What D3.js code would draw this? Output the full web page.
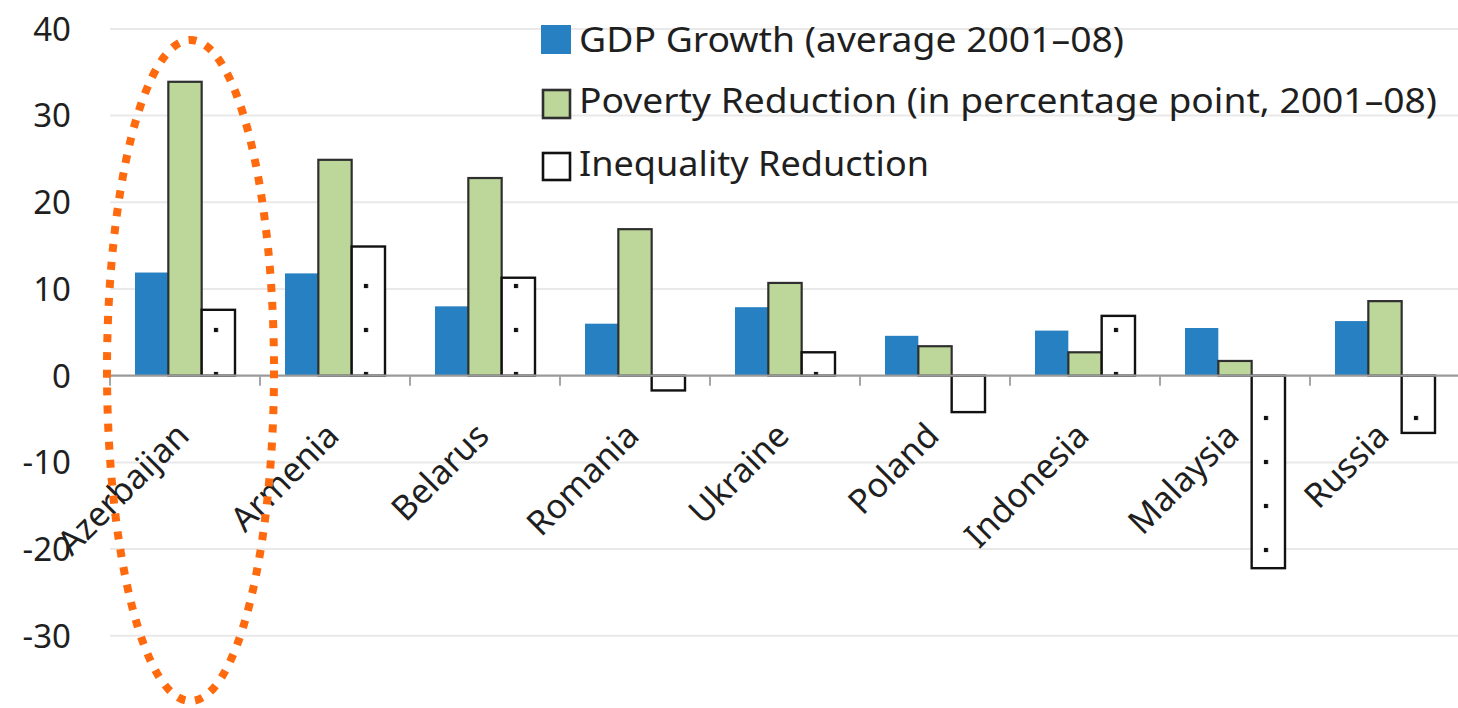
<!DOCTYPE html>
<html>
<head>
<meta charset="utf-8">
<script src="https://cdn.jsdelivr.net/npm/d3@7"></script>
<style>
  html, body { margin: 0; padding: 0; background: #fff; }
  svg { display: block; }
  text { font-family: "Noto Sans", "Open Sans", sans-serif; fill: #1f1f1f; }
</style>
</head>
<body>
<svg id="chart" width="1458" height="708"></svg>
<script>
// Growth, poverty and inequality outcomes, 2001–08
const categories = ["Azerbaijan", "Armenia", "Belarus", "Romania", "Ukraine", "Poland", "Indonesia", "Malaysia", "Russia"];
const gdpGrowth = [11.9, 11.8, 8.0, 6.0, 7.9, 4.6, 5.2, 5.5, 6.3];
const povertyReduction = [33.9, 24.9, 22.8, 16.9, 10.7, 3.4, 2.7, 1.7, 8.6];
const inequalityReduction = [7.6, 14.9, 11.3, -1.7, 2.7, -4.2, 6.9, -22.2, -6.6];
const seriesNames = ["GDP Growth (average 2001–08)", "Poverty Reduction (in percentage point, 2001–08)", "Inequality Reduction"];
const yTicks = [40, 30, 20, 10, 0, -10, -20, -30];

const svg = d3.select("#chart");
const W = 1458;

const series = [
  { key: "gdp", name: seriesNames[0], values: gdpGrowth, fill: "#2680c2", stroke: "none", sw: 0 },
  { key: "pov", name: seriesNames[1], values: povertyReduction, fill: "#bdd699", stroke: "#2f2f2f", sw: 2.2 },
  { key: "ineq", name: seriesNames[2], values: inequalityReduction, fill: "url(#dots)", stroke: "#111", sw: 2.4 }
];

const y = d3.scaleLinear().domain([-40, 40]).range([722.5, 28.9]);
const x0 = d3.scaleBand().domain(categories).range([110, 110 + 150 * categories.length]).padding(0);
const x1 = d3.scaleBand().domain(series.map(s => s.key)).range([25, 125]).padding(0);

// sparse dot fill for the inequality bars
const defs = svg.append("defs");
const pat = defs.append("pattern")
  .attr("id", "dots")
  .attr("patternUnits", "userSpaceOnUse")
  .attr("x", 362).attr("y", 275)
  .attr("width", 44.5).attr("height", 44);
pat.append("rect").attr("width", 44.5).attr("height", 44).attr("fill", "#fff");
pat.append("rect").attr("x", 8.9).attr("y", 8.9).attr("width", 4.2).attr("height", 4.2).attr("fill", "#111");
pat.append("rect").attr("x", 31.15).attr("y", 30.9).attr("width", 4.2).attr("height", 4.2).attr("fill", "#111");

// horizontal gridlines
svg.append("g")
  .selectAll("line")
  .data(yTicks.filter(d => d !== 0))
  .join("line")
  .attr("x1", 110).attr("x2", W)
  .attr("y1", d => y(d)).attr("y2", d => y(d))
  .attr("stroke", "#e9e9e9").attr("stroke-width", 2);

// y tick labels
svg.append("g")
  .selectAll("text")
  .data(yTicks)
  .join("text")
  .attr("x", 71)
  .attr("y", d => y(d))
  .attr("dy", "0.36em")
  .attr("text-anchor", "end")
  .attr("font-size", 33)
  .text(d => d < 0 ? "-" + Math.abs(d) : d);

// bars
const groups = svg.append("g")
  .selectAll("g")
  .data(categories)
  .join("g")
  .attr("transform", d => `translate(${x0(d)},0)`);

groups.selectAll("rect")
  .data((c, i) => series.map(s => ({ s, v: s.values[i] })))
  .join("rect")
  .attr("x", d => x1(d.s.key))
  .attr("width", x1.bandwidth())
  .attr("y", d => y(Math.max(0, d.v)))
  .attr("height", d => Math.abs(y(d.v) - y(0)))
  .attr("fill", d => d.s.fill)
  .attr("stroke", d => d.s.stroke)
  .attr("stroke-width", d => d.s.sw);

// category axis
const axisG = svg.append("g");
axisG.append("line")
  .attr("x1", 110).attr("x2", W)
  .attr("y1", y(0)).attr("y2", y(0))
  .attr("stroke", "#9a9a9a").attr("stroke-width", 2.2);
axisG.selectAll("line.tick")
  .data(categories.map(c => x0(c)))
  .join("line")
  .attr("class", "tick")
  .attr("x1", d => d).attr("x2", d => d)
  .attr("y1", y(0)).attr("y2", y(0) + 10)
  .attr("stroke", "#a6a6a6").attr("stroke-width", 2);

axisG.selectAll("text")
  .data(categories)
  .join("text")
  .attr("text-anchor", "end")
  .attr("font-size", 34)
  .attr("transform", d => `translate(${x0(d) + x0.bandwidth() / 2 + 6},${y(0) + 62}) rotate(-45)`)
  .text(d => d);

// legend
const legendRows = [
  { s: series[0], y: 52, len: 545, box: [541, 25, 30, 29] },
  { s: series[1], y: 113, len: 858, box: [543, 90, 27, 28] },
  { s: series[2], y: 176, len: 350, box: [543, 153, 27, 27] }
];
const lg = svg.append("g");
legendRows.forEach(r => {
  lg.append("rect")
    .attr("x", r.box[0]).attr("y", r.box[1])
    .attr("width", r.box[2]).attr("height", r.box[3])
    .attr("fill", r.s.key === "ineq" ? "#fff" : r.s.fill)
    .attr("stroke", r.s.stroke)
    .attr("stroke-width", r.s.sw ? 2.6 : 0);
  lg.append("text")
    .attr("x", 579).attr("y", r.y)
    .attr("font-size", 34)
    .attr("textLength", r.len)
    .attr("lengthAdjust", "spacingAndGlyphs")
    .text(r.s.name);
});

// dotted highlight ring around the first country
svg.append("ellipse")
  .attr("cx", 190.5).attr("cy", 370.5)
  .attr("rx", 83.5).attr("ry", 330.5)
  .attr("fill", "none")
  .attr("stroke", "#ff6a0e")
  .attr("stroke-width", 8)
  .attr("stroke-dasharray", "8 10");
</script>
</body>
</html>
